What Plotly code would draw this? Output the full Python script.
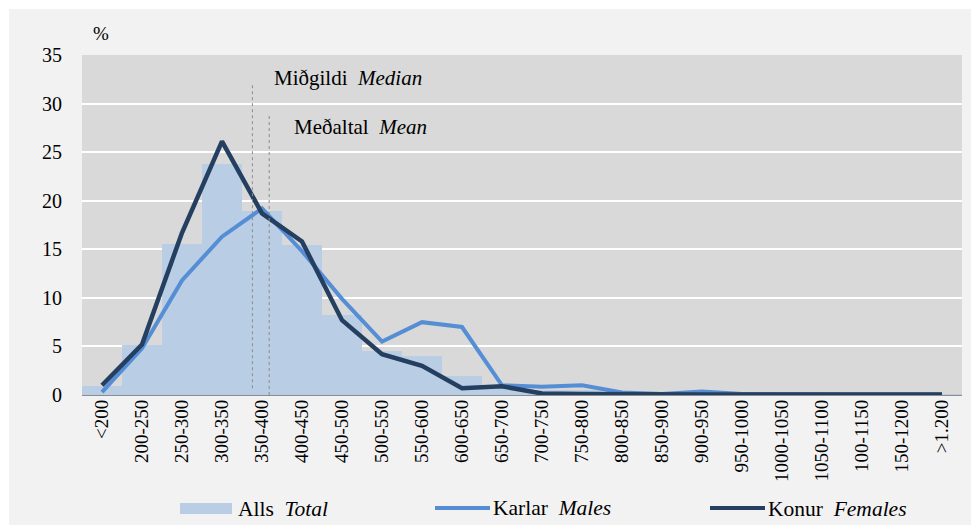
import plotly.graph_objects as go

categories = ["<200", "200-250", "250-300", "300-350", "350-400", "400-450", "450-500",
              "500-550", "550-600", "600-650", "650-700", "700-750", "750-800", "800-850",
              "850-900", "900-950", "950-1000", "1000-1050", "1050-1100", "100-1150",
              "150-1200", ">1.200"]
total = [0.9, 5.1, 15.5, 23.8, 18.9, 15.4, 8.2, 4.5, 4.0, 2.0, 0.8, 0.5, 0.5, 0.15,
         0.1, 0.2, 0.05, 0.05, 0.1, 0.05, 0.05, 0.05]
males = [0.3, 4.8, 11.8, 16.3, 19.2, 14.8, 9.9, 5.5, 7.5, 7.0, 1.0, 0.85, 1.0, 0.25,
         0.1, 0.35, 0.1, 0.05, 0.1, 0.05, 0.05, 0.05]
females = [1.0, 5.2, 16.7, 26.1, 18.7, 15.8, 7.7, 4.2, 3.0, 0.7, 0.9, 0.15, 0.1, 0.05,
           0.05, 0.05, 0.05, 0.05, 0.05, 0.05, 0.05, 0.05]
y_ticks = [0, 5, 10, 15, 20, 25, 30, 35]
median_value = 363   # thousand kr
mean_value = 384
median_label = "Miðgildi  <i>Median</i>"
mean_label = "Meðaltal  <i>Mean</i>"
legend_labels = ["Alls  <i>Total</i>", "Karlar  <i>Males</i>", "Konur  <i>Females</i>"]

C_TOTAL = "#b9cde5"
C_MALE = "#558ed5"
C_FEMALE = "#243f60"
FONT = "'Liberation Serif', 'Times New Roman', Tinos, 'DejaVu Serif', serif"

OFF = 8
W, H = 979 - OFF, 529 - OFF
PL, PR, PT, PB = 82, 962, 55, 395
ML, MT = PL - OFF, PT - OFF
MR = W - (PR - OFF)
MB = H - (PB - OFF)
PW = PR - PL
PH = PB - PT


def px(x):
    return (x - PL) / PW


def py(y):
    return (PB - y) / PH


def to_pos(v):
    return (v - 325) / 50 + 3


fig = go.Figure()
fig.add_trace(go.Bar(x=list(range(len(categories))), y=total, marker_color=C_TOTAL,
                     marker_line_width=0, name="Alls Total", showlegend=False))
fig.add_trace(go.Scatter(x=list(range(len(categories))), y=males, mode="lines",
                         line=dict(color=C_MALE, width=4), name="Karlar Males", showlegend=False))
fig.add_trace(go.Scatter(x=list(range(len(categories))), y=females, mode="lines",
                         line=dict(color=C_FEMALE, width=4.5), name="Konur Females", showlegend=False))

shapes = [
    dict(type="rect", xref="paper", yref="paper", x0=px(9), x1=px(975), y0=py(525), y1=py(9),
         fillcolor="#f2f2f2", line_width=0, layer="below"),
    dict(type="rect", xref="paper", yref="paper", x0=0, x1=1, y0=0, y1=1,
         fillcolor="#d9d9d9", line_width=0, layer="below"),
    dict(type="line", xref="x", yref="y", x0=to_pos(median_value), x1=to_pos(median_value),
         y0=0.7, y1=32.2, line=dict(color="#8c8c8c", width=1, dash="dot")),
    dict(type="line", xref="x", yref="y", x0=to_pos(mean_value), x1=to_pos(mean_value),
         y0=0, y1=28.8, line=dict(color="#8c8c8c", width=1, dash="dot")),
    dict(type="rect", xref="paper", yref="paper", x0=px(180), x1=px(232), y0=py(514), y1=py(503),
         fillcolor=C_TOTAL, line_width=0),
    dict(type="line", xref="paper", yref="paper", x0=px(435), x1=px(490), y0=py(508), y1=py(508),
         line=dict(color=C_MALE, width=4)),
    dict(type="line", xref="paper", yref="paper", x0=px(710), x1=px(765), y0=py(508), y1=py(508),
         line=dict(color=C_FEMALE, width=4)),
]

annotations = [
    dict(xref="paper", yref="paper", x=px(91), y=py(33), text="%", showarrow=False,
         xanchor="left", yanchor="middle", font=dict(size=19, color="black", family=FONT)),
    dict(xref="paper", yref="paper", x=px(272), y=py(78), text=median_label, showarrow=False,
         xanchor="left", yanchor="middle", font=dict(size=21, color="black", family=FONT)),
    dict(xref="paper", yref="paper", x=px(292), y=py(127), text=mean_label, showarrow=False,
         xanchor="left", yanchor="middle", font=dict(size=21, color="black", family=FONT)),
    dict(xref="paper", yref="paper", x=px(236), y=py(509), text=legend_labels[0], showarrow=False,
         xanchor="left", yanchor="middle", font=dict(size=21.5, color="black", family=FONT)),
    dict(xref="paper", yref="paper", x=px(491), y=py(508), text=legend_labels[1], showarrow=False,
         xanchor="left", yanchor="middle", font=dict(size=21.5, color="black", family=FONT)),
    dict(xref="paper", yref="paper", x=px(766), y=py(509), text=legend_labels[2], showarrow=False,
         xanchor="left", yanchor="middle", font=dict(size=21.5, color="black", family=FONT)),
]

fig.update_layout(
    width=W, height=H,
    margin=dict(l=ML, r=MR, t=MT, b=MB, pad=0),
    paper_bgcolor="white",
    plot_bgcolor="#d9d9d9",
    bargap=0,
    showlegend=False,
    shapes=shapes,
    annotations=annotations,
    font=dict(family=FONT, color="black"),
    xaxis=dict(
        tickmode="array", tickvals=list(range(len(categories))), ticktext=categories,
        range=[-0.5, len(categories) - 0.5], tickangle=-90,
        tickfont=dict(size=19, family=FONT, color="black"),
        showgrid=False, zeroline=False, showline=False, ticks="", ticklen=0,
    ),
    yaxis=dict(
        range=[0, 35], tickvals=y_ticks, tickfont=dict(size=20, family=FONT, color="black"),
        showgrid=True, gridcolor="white", gridwidth=2, zeroline=True, zerolinecolor="#8c8c8c",
        zerolinewidth=1.5, showline=False, ticks="", ticklabelstandoff=19,
    ),
)

fig.write_html("out.html")
